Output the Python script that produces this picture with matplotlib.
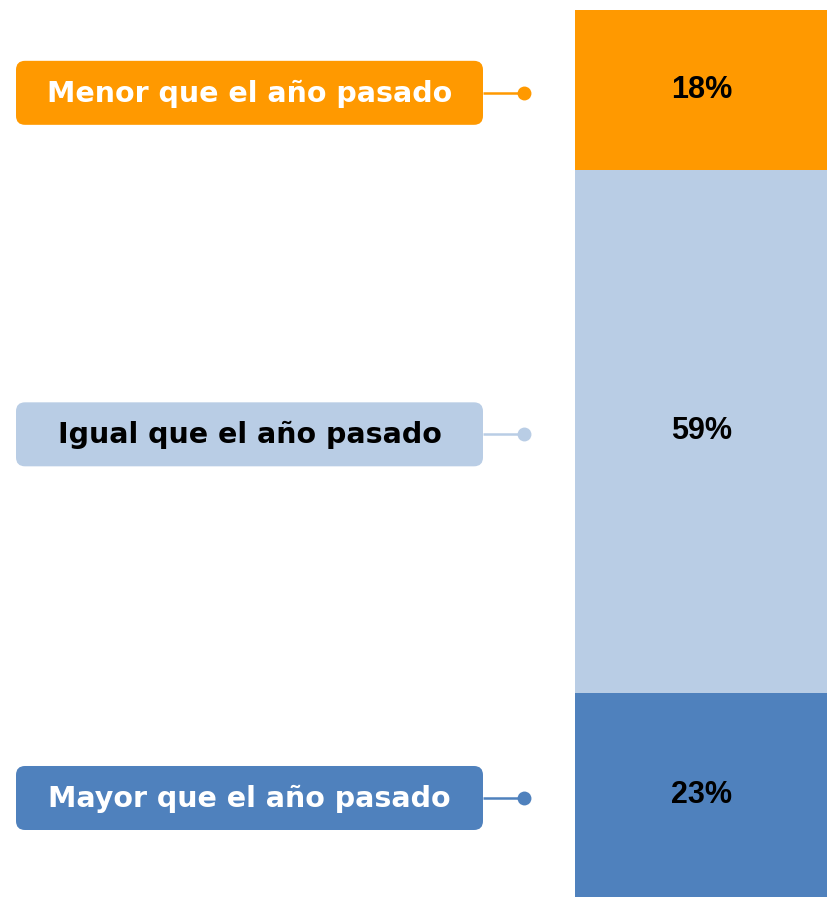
import matplotlib
matplotlib.use('Agg')
import matplotlib.pyplot as plt
from matplotlib import font_manager
from matplotlib.patches import FancyBboxPatch

# data, stacked from bottom to top
categories = ['Mayor que el año pasado', 'Igual que el año pasado', 'Menor que el año pasado']
values = [23, 59, 18]
colors = ['#4F81BD', '#B9CDE5', '#FF9900']
label_text_colors = ['white', 'black', 'white']

# Arial-like bold for the percentages (skip the Narrow variant)
pct_font = font_manager.FontProperties(family='DejaVu Sans', weight='bold', size=22)
for f in font_manager.fontManager.ttflist:
    if f.name == 'Liberation Sans' and f.weight in (700, 'bold') and f.style == 'normal' \
            and 'Narrow' not in f.fname:
        pct_font = font_manager.FontProperties(fname=f.fname, size=22)
        break

W, H = 828, 897
fig = plt.figure(figsize=(W / 100, H / 100), dpi=100)

# bar axes (pixel box: x 575..828, y 10..897)
bar_ax = fig.add_axes([575 / W, 0, 253 / W, 887 / H])
bar_ax.set_xlim(0, 1)
bar_ax.set_ylim(0, sum(values))
bar_ax.axis('off')

# overlay axes in pixel units for the label boxes
lab_ax = fig.add_axes([0, 0, 1, 1], zorder=2)
lab_ax.set_xlim(0, W)
lab_ax.set_ylim(H, 0)
lab_ax.axis('off')

bottom = 0
for cat, val, col, tcol in zip(categories, values, colors, label_text_colors):
    bar_ax.bar(0.5, val, width=1.0, bottom=bottom, color=col, edgecolor='none')
    mid = bottom + val / 2
    bar_ax.text(0.5, mid, f'{val}%', ha='center', va='center',
                fontproperties=pct_font, color='black')

    # map the segment centre onto the pixel axes
    disp = bar_ax.transData.transform((0.5, mid))
    _, yc = lab_ax.transData.inverted().transform(disp)
    yc += 3

    box = FancyBboxPatch((16, yc - 32), 467, 64,
                         boxstyle='round,pad=0,rounding_size=9',
                         facecolor=col, edgecolor='none')
    lab_ax.add_patch(box)
    lab_ax.text(249.5, yc + 1, cat, ha='center', va='center', color=tcol,
                fontsize=20.5, fontweight='bold', family='DejaVu Sans')
    lab_ax.plot([483, 524], [yc, yc], color=col, lw=1.8, solid_capstyle='butt')
    lab_ax.plot([524], [yc], 'o', color=col, markersize=10, markeredgewidth=0)

    bottom += val

fig.savefig('out.png', dpi=100, facecolor='white')
